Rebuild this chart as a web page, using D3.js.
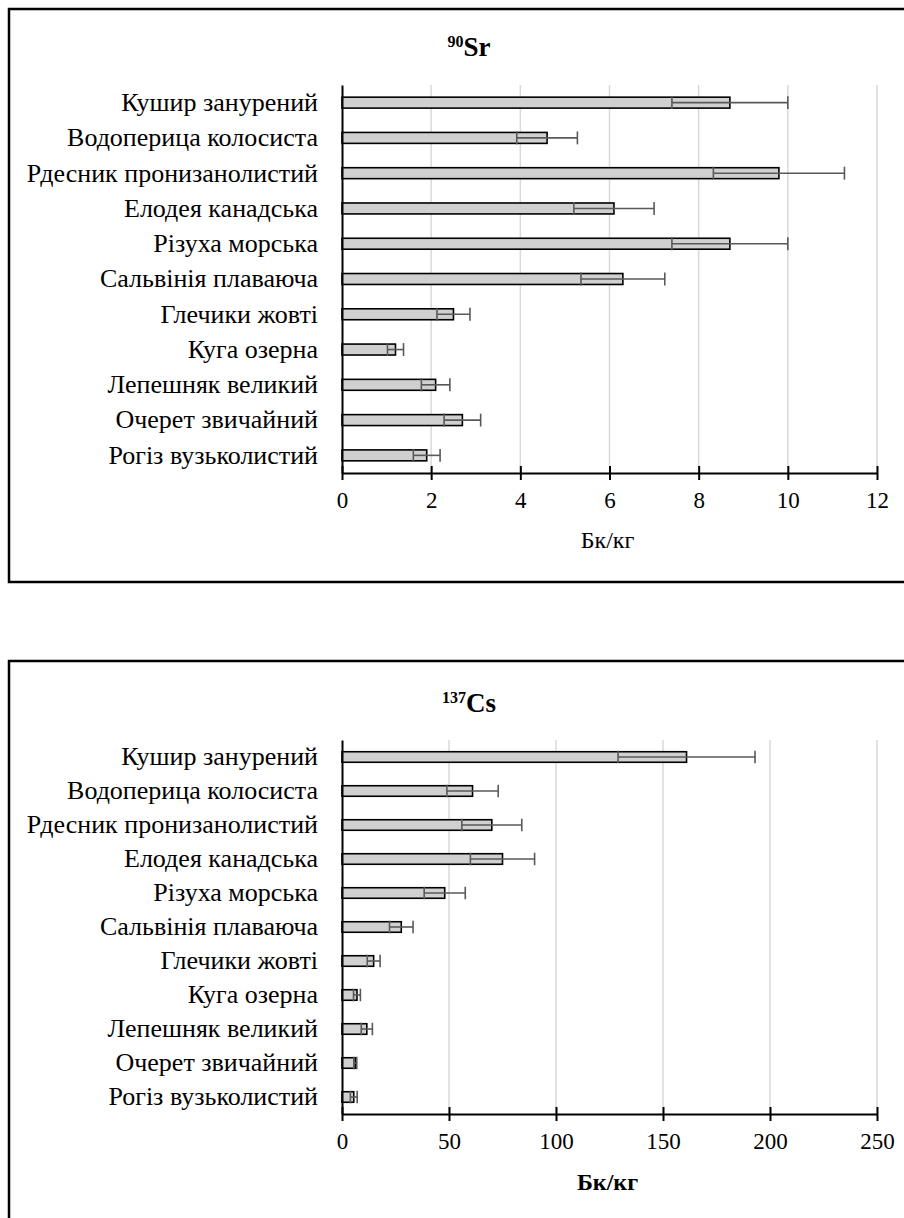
<!DOCTYPE html>
<html>
<head>
<meta charset="utf-8">
<script src="https://cdn.jsdelivr.net/npm/d3@7"></script>
<style>
  html, body { margin: 0; padding: 0; background: #fff; }
  svg { display: block; }
  svg text { font-family: 'Liberation Serif', 'Times New Roman', Times, serif !important; fill: #000; }
</style>
</head>
<body>
<svg id="chart" width="904" height="1218"></svg>
<script>
// Plant species (top to bottom)
const species = [
  "Кушир занурений",
  "Водоперица колосиста",
  "Рдесник пронизанолистий",
  "Елодея канадська",
  "Різуха морська",
  "Сальвінія плаваюча",
  "Глечики жовті",
  "Куга озерна",
  "Лепешняк великий",
  "Очерет звичайний",
  "Рогіз вузьколистий"
];

// 90Sr activity, Бк/кг, and its error
const srValues = [8.7, 4.6, 9.8, 6.1, 8.7, 6.3, 2.5, 1.2, 2.1, 2.7, 1.9];
const srErrors = [1.3, 0.68, 1.47, 0.9, 1.3, 0.94, 0.37, 0.18, 0.32, 0.41, 0.3];
const srTicks = [0, 2, 4, 6, 8, 10, 12];

// 137Cs activity, Бк/кг, and its error
const csValues = [161, 61, 70, 75, 48, 27.7, 14.8, 7.0, 11.6, 6.2, 5.5];
const csErrors = [32, 12, 14, 15, 9.6, 5.5, 3.0, 1.6, 2.6, 0.7, 1.6];
const csTicks = [0, 50, 100, 150, 200, 250];

const SERIF = "'Liberation Serif', 'Times New Roman', Times, serif";
const svg = d3.select("#chart").style("font-family", SERIF);

function panel(cfg) {
  const g = svg.append("g");

  // frame
  g.append("rect")
    .attr("x", cfg.frame[0]).attr("y", cfg.frame[1])
    .attr("width", cfg.frame[2]).attr("height", cfg.frame[3])
    .attr("fill", "none").attr("stroke", "#000").attr("stroke-width", 2.5);

  // title with superscript mass number
  const t = g.append("text")
    .attr("x", cfg.titleX).attr("y", cfg.titleY)
    .attr("text-anchor", "middle")
    .style("font-family", SERIF)
    .attr("font-weight", "bold");
  t.append("tspan").attr("font-size", 16).attr("dy", -9).text(cfg.mass);
  t.append("tspan").attr("font-size", 27).attr("dy", 9).text(cfg.element);

  const x = d3.scaleLinear().domain(cfg.domain).range([342, 877]);
  const y = d3.scaleBand().domain(species).range(cfg.yRange).paddingInner(0.69).paddingOuter(0.345);

  // vertical gridlines
  g.append("g").selectAll("line").data(cfg.ticks.slice(1)).join("line")
    .attr("x1", d => x(d)).attr("x2", d => x(d))
    .attr("y1", cfg.yRange[0]).attr("y2", cfg.yRange[1])
    .attr("stroke", "#d9d9d9").attr("stroke-width", 1.5);

  // bars
  g.append("g").selectAll("rect").data(cfg.values).join("rect")
    .attr("x", x(0))
    .attr("y", (d, i) => y(species[i]))
    .attr("width", d => x(d) - x(0))
    .attr("height", y.bandwidth())
    .attr("fill", "#d0d0d0")
    .attr("stroke", "#000").attr("stroke-width", 1.6);

  // error bars
  const eb = g.append("g").attr("stroke", "#595959").attr("stroke-width", 1.6);
  cfg.values.forEach((v, i) => {
    const cy = y(species[i]) + y.bandwidth() / 2;
    const lo = x(v - cfg.errors[i]), hi = x(v + cfg.errors[i]);
    const h = y.bandwidth() / 2 + 1;
    eb.append("line").attr("x1", lo).attr("x2", hi).attr("y1", cy).attr("y2", cy);
    eb.append("line").attr("x1", lo).attr("x2", lo).attr("y1", cy - h).attr("y2", cy + h);
    eb.append("line").attr("x1", hi).attr("x2", hi).attr("y1", cy - h).attr("y2", cy + h);
  });

  // category axis
  const ya = g.append("g").attr("transform", `translate(${x(0)},0)`)
    .call(d3.axisLeft(y).tickSize(0).tickPadding(24));
  ya.attr("font-family", null).style("font-family", SERIF);
  ya.select(".domain").attr("stroke", "#000").attr("stroke-width", 2);
  ya.selectAll("text").attr("font-size", 26).style("font-family", SERIF);

  // value axis with crossing ticks
  const base = cfg.yRange[1];
  const xa = g.append("g").attr("transform", `translate(0,${base})`)
    .call(d3.axisBottom(x).tickValues(cfg.ticks).tickSize(7).tickSizeOuter(0).tickPadding(12));
  xa.attr("font-family", null).style("font-family", SERIF);
  xa.select(".domain").attr("stroke", "#000").attr("stroke-width", 2);
  xa.selectAll(".tick line").attr("y1", -7).attr("y2", 7).attr("stroke", "#000").attr("stroke-width", 2);
  xa.selectAll("text").attr("font-size", 23).style("font-family", SERIF);

  g.append("text")
    .attr("x", (x.range()[0] + x.range()[1]) / 2 - 2)
    .attr("y", base + cfg.unitDy)
    .attr("text-anchor", "middle")
    .style("font-family", SERIF)
    .attr("font-size", 24)
    .attr("font-weight", cfg.unitBold ? "bold" : "normal")
    .text("Бк/кг");
}

panel({
  frame: [9, 9, 1000, 573],
  mass: "90", element: "Sr", titleX: 469, titleY: 56,
  domain: [0, 12], ticks: srTicks,
  values: srValues, errors: srErrors,
  yRange: [85, 473], unitDy: 75, unitBold: false
});

panel({
  frame: [9, 661, 1000, 600],
  mass: "137", element: "Cs", titleX: 469, titleY: 712,
  domain: [0, 250], ticks: csTicks,
  values: csValues, errors: csErrors,
  yRange: [740, 1114], unitDy: 76, unitBold: true
});
</script>
</body>
</html>
